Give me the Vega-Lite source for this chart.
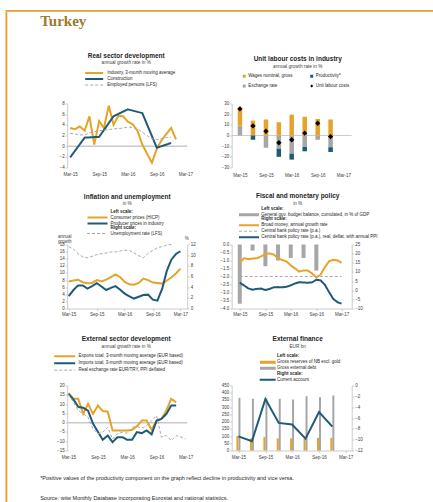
{
  "$schema": "https://vega.github.io/schema/vega-lite/v6.json",
  "autosize": {"type": "pad"},
  "padding": {"left": 5.5, "top": 10, "right": 0, "bottom": 0},
  "background": "white",
  "spacing": 0,
  "vconcat": [
    {"width": 427.5, "height": 1.8, "view": {"fill": "#E59E2E", "stroke": null}, "data": {"values": []}, "mark": "point", "encoding": {}},
    {
      "spacing": 32.7,
      "hconcat": [
        {"width": 1.8, "height": 490, "view": {"fill": "#E59E2E", "stroke": null}, "data": {"values": []}, "mark": "point", "encoding": {}},
        {
          "spacing": 23.5,
          "vconcat": [
            {"width": 1, "height": 1, "title": {"text": "Turkey", "orient": "bottom", "anchor": "start", "frame": "group", "dx": -27, "offset": 0.5, "font": "Liberation Serif", "fontSize": 15, "fontWeight": "bold", "color": "#9C7A2E"}, "data": {"values": []}, "mark": "point", "encoding": {}},
            {
              "bounds": "flush",
              "columns": 2,
              "spacing": {"row": 77, "column": 44.5},
              "resolve": {"scale": {"color": "independent", "strokeDash": "independent", "strokeWidth": "independent", "shape": "independent"}, "legend": {"color": "independent", "strokeDash": "independent", "strokeWidth": "independent", "shape": "independent"}},
              "title": {"text": "*Positive values of the productivity component on the graph reflect decline in productivity and vice versa.", "subtitle": "Source: wiiw Monthly Database incorporating Eurostat and national statistics.", "orient": "bottom", "anchor": "start", "frame": "group", "dx": -27, "offset": 17, "font": "Liberation Sans", "fontSize": 5.5, "fontWeight": "normal", "color": "#262626", "subtitleFont": "Liberation Sans", "subtitleFontSize": 5.5, "subtitleColor": "#262626", "subtitlePadding": 14},
              "concat": [
                {
                  "width": 120, "height": 64,
                  "title": {"text": "Real sector development", "subtitle": "annual growth rate in %", "dx": -1, "offset": 5, "subtitlePadding": 1},
                  "layer": [
                    {"data": {"values": [{}]}, "mark": {"type": "rule", "color": "#C9C9C9", "strokeWidth": 1.5},
                     "encoding": {"y": {"datum": 0, "type": "quantitative", "scale": {"domain": [-4, 8], "nice": false}}}},
                    {"data": {"name": "real_sector"}, "mark": {"type": "line"},
                     "encoding": {
                       "x": {"field": "date", "type": "temporal", "scale": {"type": "utc", "nice": false, "domain": [{"year": 2015, "month": 2, "date": 10, "utc": true}, {"year": 2017, "month": 3, "date": 13, "utc": true}]},
                             "axis": {"values": [{"year": 2015, "month": 3, "date": 1, "utc": true}, {"year": 2015, "month": 9, "date": 1, "utc": true}, {"year": 2016, "month": 3, "date": 1, "utc": true}, {"year": 2016, "month": 9, "date": 1, "utc": true}, {"year": 2017, "month": 3, "date": 1, "utc": true}], "tickCount": 50, "format": "%b-%y", "title": null, "domain": false, "ticks": false, "labelPadding": 4, "labelFlush": false, "labelOverlap": false}},
                       "y": {"field": "value", "type": "quantitative", "scale": {"domain": [-4, 8], "nice": false}, "axis": {"values": [-4, -2, 0, 2, 4, 6, 8], "tickCount": 50, "format": "d", "labelOverlap": false, "title": null}},
                       "color": {"field": "series", "type": "nominal", "scale": {"domain": ["Industry, 3-month moving average", "Construction", "Employed persons (LFS)"], "range": ["#E5A32A", "#1F5B78", "#A9A9A9"]},
                                 "legend": {"title": null, "orient": "none", "legendX": 17, "legendY": -33.5, "symbolType": "stroke", "symbolSize": 324, "clipHeight": 6, "rowPadding": 0, "labelOffset": 3}},
                       "strokeDash": {"field": "series", "type": "nominal", "scale": {"domain": ["Industry, 3-month moving average", "Construction", "Employed persons (LFS)"], "range": [[1, 0], [1, 0], [3, 2]]}},
                       "strokeWidth": {"field": "series", "type": "nominal", "scale": {"type": "ordinal", "domain": ["Industry, 3-month moving average", "Construction", "Employed persons (LFS)"], "range": [2, 2, 1]}}
                     }}
                  ]
                },
                {
                  "width": 120, "height": 64,
                  "title": {"text": "Unit labour costs in industry", "subtitle": "annual growth rate in %", "dx": 6, "offset": 5, "subtitlePadding": 2},
                  "layer": [
                    {"data": {"values": [{}]}, "mark": {"type": "rule", "color": "#BFBFBF", "strokeWidth": 0.8},
                     "encoding": {"y": {"datum": 0, "type": "quantitative", "scale": {"domain": [-30, 30], "nice": false}}}},
                    {"data": {"name": "ulc_components"}, "mark": {"type": "bar", "size": 4.5},
                     "encoding": {
                       "x": {"field": "date", "type": "temporal", "scale": {"type": "utc", "nice": false, "domain": [{"year": 2015, "month": 2, "date": 6, "utc": true}, {"year": 2017, "month": 3, "date": 25, "utc": true}]},
                             "axis": {"values": [{"year": 2015, "month": 3, "date": 1, "utc": true}, {"year": 2015, "month": 9, "date": 1, "utc": true}, {"year": 2016, "month": 3, "date": 1, "utc": true}, {"year": 2016, "month": 9, "date": 1, "utc": true}, {"year": 2017, "month": 3, "date": 1, "utc": true}], "tickCount": 50, "format": "%b-%y", "title": null, "domain": false, "ticks": false, "labelPadding": 4.5, "labelFlush": false, "labelOverlap": false}},
                       "y": {"field": "value", "type": "quantitative", "stack": "zero", "scale": {"domain": [-30, 30], "nice": false}, "axis": {"values": [-30, -20, -10, 0, 10, 20, 30], "tickCount": 50, "format": "d", "labelOverlap": false, "title": null}},
                       "color": {"field": "series", "type": "nominal", "scale": {"domain": ["Wages nominal, gross", "Exchange rate", "Productivity*", "Unit labour costs"], "range": ["#E5A32A", "#A6A6A6", "#1F5B78", "#000000"]},
                                 "legend": {"title": null, "orient": "none", "legendX": 10, "legendY": -29.75, "columns": 2, "columnPadding": 16.5, "symbolSize": 9, "rowPadding": 4.8, "labelOffset": 1.5, "symbolType": "square"}},
                       "order": {"field": "stack_order", "type": "quantitative"}
                     }},
                    {"data": {"name": "ulc_total"}, "mark": {"type": "point", "filled": true, "size": 28, "opacity": 1},
                     "encoding": {
                       "x": {"field": "date", "type": "temporal", "scale": {"type": "utc", "nice": false, "domain": [{"year": 2015, "month": 2, "date": 6, "utc": true}, {"year": 2017, "month": 3, "date": 25, "utc": true}]}},
                       "y": {"field": "value", "type": "quantitative", "scale": {"domain": [-30, 30], "nice": false}},
                       "color": {"field": "series", "type": "nominal", "scale": {"domain": ["Wages nominal, gross", "Exchange rate", "Productivity*", "Unit labour costs"], "range": ["#E5A32A", "#A6A6A6", "#1F5B78", "#000000"]}},
                       "shape": {"field": "series", "type": "nominal", "scale": {"domain": ["Wages nominal, gross", "Exchange rate", "Productivity*", "Unit labour costs"], "range": ["square", "square", "square", "diamond"]}}
                     }}
                  ]
                },
                {
                  "width": 120, "height": 64,
                  "title": {"text": "Inflation and unemployment", "subtitle": "in %", "dx": 0, "offset": 3, "subtitlePadding": 0.5},
                  "layer": [
                    {"data": {"name": "inflation"}, "mark": {"type": "line", "strokeWidth": 2},
                     "encoding": {
                       "x": {"field": "date", "type": "temporal", "scale": {"type": "utc", "nice": false, "domain": [{"year": 2015, "month": 2, "date": 19, "utc": true}, {"year": 2017, "month": 4, "date": 14, "utc": true}]},
                             "axis": {"values": [{"year": 2015, "month": 3, "date": 1, "utc": true}, {"year": 2015, "month": 9, "date": 1, "utc": true}, {"year": 2016, "month": 3, "date": 1, "utc": true}, {"year": 2016, "month": 9, "date": 1, "utc": true}, {"year": 2017, "month": 3, "date": 1, "utc": true}], "tickCount": 50, "format": "%b-%y", "title": null, "domain": true, "ticks": true, "labelPadding": 0.5, "labelFlush": false, "labelOverlap": false}},
                       "y": {"field": "value", "type": "quantitative", "scale": {"domain": [0, 18], "nice": false}, "axis": {"values": [0, 2, 4, 6, 8, 10, 12, 14, 16, 18], "tickCount": 50, "format": "d", "labelOverlap": false, "title": ["annual", "growth"], "titleAngle": 0, "titleAlign": "center", "titleBaseline": "bottom", "titleX": -3, "titleY": -6.5, "titleLineHeight": 5}},
                       "color": {"field": "series", "type": "nominal", "scale": {"domain": ["Left scale:", "Consumer prices (HICP)", "Producer prices in industry"], "range": ["rgba(0,0,0,0)", "#E5A32A", "#1F5B78"]},
                                 "legend": {"title": null, "orient": "none", "legendX": 19.3, "legendY": -35.5, "symbolType": "stroke", "symbolSize": 400, "symbolStrokeWidth": 2, "clipHeight": 5, "rowPadding": 0, "labelOffset": 2, "labelFontWeight": {"expr": "datum.label == 'Left scale:' ? 'bold' : 'normal'"}}}
                     }},
                    {"data": {"name": "unemployment"}, "mark": {"type": "line", "strokeWidth": 1, "strokeDash": [3, 2]},
                     "encoding": {
                       "x": {"field": "date", "type": "temporal", "scale": {"type": "utc", "nice": false, "domain": [{"year": 2015, "month": 2, "date": 19, "utc": true}, {"year": 2017, "month": 4, "date": 14, "utc": true}]}},
                       "y": {"field": "value", "type": "quantitative", "scale": {"domain": [0, 12], "nice": false}, "axis": {"orient": "right", "values": [0, 2, 4, 6, 8, 10, 12], "tickCount": 50, "format": "d", "labelOverlap": false, "title": "%", "titleAngle": 0, "titleAlign": "center", "titleBaseline": "bottom", "titleX": -1, "titleY": -4.5}},
                       "color": {"field": "series", "type": "nominal", "scale": {"domain": ["Right scale:", "Unemployment rate (LFS)"], "range": ["rgba(0,0,0,0)", "#A9A9A9"]},
                                 "legend": {"title": null, "orient": "none", "legendX": 19.3, "legendY": -19.5, "symbolType": "stroke", "symbolSize": 400, "symbolStrokeWidth": 1, "symbolDash": [3, 2], "clipHeight": 5, "rowPadding": 0, "labelOffset": 3, "labelFontWeight": {"expr": "datum.label == 'Right scale:' ? 'bold' : 'normal'"}}}
                     }}
                  ],
                  "resolve": {"scale": {"y": "independent", "color": "independent"}}
                },
                {
                  "width": 120, "height": 64,
                  "title": {"text": "Fiscal and monetary policy", "subtitle": "in %", "dx": 6, "offset": 1, "subtitlePadding": 1.5},
                  "layer": [
                    {"data": {"name": "budget"}, "mark": {"type": "bar", "size": 4},
                     "encoding": {
                       "x": {"field": "date", "type": "temporal", "scale": {"type": "utc", "nice": false, "domain": [{"year": 2015, "month": 2, "date": 7, "utc": true}, {"year": 2017, "month": 4, "date": 7, "utc": true}]},
                             "axis": {"values": [{"year": 2015, "month": 3, "date": 1, "utc": true}, {"year": 2015, "month": 9, "date": 1, "utc": true}, {"year": 2016, "month": 3, "date": 1, "utc": true}, {"year": 2016, "month": 9, "date": 1, "utc": true}, {"year": 2017, "month": 3, "date": 1, "utc": true}], "tickCount": 50, "format": "%b-%y", "title": null, "domain": true, "ticks": true, "labelPadding": 0.5, "labelFlush": false, "labelOverlap": false}},
                       "y": {"field": "value", "type": "quantitative", "scale": {"domain": [-4, 0], "nice": false}, "axis": {"values": [-4, -3.5, -3, -2.5, -2, -1.5, -1, -0.5, 0], "tickCount": 50, "labelOverlap": false, "format": ".1f", "title": null}},
                       "color": {"field": "series", "type": "nominal", "scale": {"domain": ["Left scale:", "General gov. budget balance, cumulated, in % of GDP"], "range": ["rgba(0,0,0,0)", "#A6A6A6"]},
                                 "legend": {"title": null, "orient": "none", "legendX": 7.3, "legendY": -38.2, "symbolType": "M-1,-0.15H1V0.15H-1Z", "symbolSize": 400, "symbolStrokeWidth": 0, "clipHeight": 5, "rowPadding": 0, "labelOffset": 2.3, "labelFontWeight": {"expr": "datum.label == 'Left scale:' ? 'bold' : 'normal'"}}}
                     }},
                    {"data": {"name": "money"}, "mark": {"type": "line"},
                     "encoding": {
                       "x": {"field": "date", "type": "temporal", "scale": {"type": "utc", "nice": false, "domain": [{"year": 2015, "month": 2, "date": 7, "utc": true}, {"year": 2017, "month": 4, "date": 7, "utc": true}]}},
                       "y": {"field": "value", "type": "quantitative", "scale": {"domain": [-10, 25], "nice": false}, "axis": {"orient": "right", "values": [-10, -5, 0, 5, 10, 15, 20, 25], "tickCount": 50, "format": "d", "labelOverlap": false, "title": null}},
                       "color": {"field": "series", "type": "nominal", "scale": {"domain": ["Right scale:", "Broad money, annual growth rate", "Central bank policy rate (p.a.)", "Central bank policy rate (p.a.), real, deflat. with annual PPI"], "range": ["rgba(0,0,0,0)", "#E5A32A", "#A9A9A9", "#1F5B78"]},
                                 "legend": {"title": null, "orient": "none", "legendX": 6.3, "legendY": -27.8, "symbolType": "stroke", "symbolSize": 400, "clipHeight": 5, "rowPadding": 0, "labelOffset": 1.3, "labelFontWeight": {"expr": "datum.label == 'Right scale:' ? 'bold' : 'normal'"}}},
                       "strokeDash": {"field": "series", "type": "nominal", "scale": {"domain": ["Right scale:", "Broad money, annual growth rate", "Central bank policy rate (p.a.)", "Central bank policy rate (p.a.), real, deflat. with annual PPI"], "range": [[1, 0], [1, 0], [3, 2], [1, 0]]}},
                       "strokeWidth": {"field": "series", "type": "nominal", "scale": {"type": "ordinal", "domain": ["Right scale:", "Broad money, annual growth rate", "Central bank policy rate (p.a.)", "Central bank policy rate (p.a.), real, deflat. with annual PPI"], "range": [2, 2, 1, 2]}}
                     }}
                  ],
                  "resolve": {"scale": {"y": "independent", "color": "independent", "strokeDash": "independent", "strokeWidth": "independent"}}
                },
                {
                  "width": 120, "height": 65,
                  "title": {"text": "External sector development", "subtitle": "annual growth rate in %", "dx": -1, "offset": 4.5, "subtitlePadding": 1},
                  "layer": [
                    {"data": {"values": [{}]}, "mark": {"type": "rule", "color": "#C9C9C9", "strokeWidth": 1.5},
                     "encoding": {"y": {"datum": 0, "type": "quantitative", "scale": {"domain": [-15, 20], "nice": false}}}},
                    {"data": {"name": "ext_sector"}, "mark": {"type": "line"},
                     "encoding": {
                       "x": {"field": "date", "type": "temporal", "scale": {"type": "utc", "nice": false, "domain": [{"year": 2015, "month": 2, "date": 21, "utc": true}, {"year": 2017, "month": 3, "date": 11, "utc": true}]},
                             "axis": {"values": [{"year": 2015, "month": 3, "date": 1, "utc": true}, {"year": 2015, "month": 9, "date": 1, "utc": true}, {"year": 2016, "month": 3, "date": 1, "utc": true}, {"year": 2016, "month": 9, "date": 1, "utc": true}, {"year": 2017, "month": 3, "date": 1, "utc": true}], "tickCount": 50, "format": "%b-%y", "title": null, "domain": false, "ticks": false, "labelPadding": 4, "labelFlush": false, "labelOverlap": false}},
                       "y": {"field": "value", "type": "quantitative", "scale": {"domain": [-15, 20], "nice": false}, "axis": {"values": [-15, -10, -5, 0, 5, 10, 15, 20], "tickCount": 50, "format": "d", "labelOverlap": false, "title": null}},
                       "color": {"field": "series", "type": "nominal", "scale": {"domain": ["Exports total, 3-month moving average (EUR based)", "Imports total, 3-month moving average (EUR based)", "Real exchange rate EUR/TRY, PPI deflated"], "range": ["#E5A32A", "#1F5B78", "#A9A9A9"]},
                                 "legend": {"title": null, "orient": "none", "legendX": -14, "legendY": -32.5, "symbolType": "stroke", "symbolSize": 441, "clipHeight": 6.3, "rowPadding": 0, "labelOffset": 2.3}},
                       "strokeDash": {"field": "series", "type": "nominal", "scale": {"domain": ["Exports total, 3-month moving average (EUR based)", "Imports total, 3-month moving average (EUR based)", "Real exchange rate EUR/TRY, PPI deflated"], "range": [[1, 0], [1, 0], [3, 2]]}},
                       "strokeWidth": {"field": "series", "type": "nominal", "scale": {"type": "ordinal", "domain": ["Exports total, 3-month moving average (EUR based)", "Imports total, 3-month moving average (EUR based)", "Real exchange rate EUR/TRY, PPI deflated"], "range": [2, 2, 1]}}
                     }}
                  ]
                },
                {
                  "width": 120, "height": 65,
                  "title": {"text": "External finance", "subtitle": "EUR bn", "dx": 6, "offset": 5, "subtitlePadding": 1},
                  "layer": [
                    {
                      "layer": [
                        {"data": {"name": "reserves"}, "mark": {"type": "bar", "size": 2, "xOffset": -1},
                         "encoding": {
                           "x": {"field": "date", "type": "temporal", "scale": {"type": "utc", "nice": false, "domain": [{"year": 2015, "month": 2, "date": 17, "utc": true}, {"year": 2017, "month": 3, "date": 9, "utc": true}]},
                                 "axis": {"values": [{"year": 2015, "month": 3, "date": 1, "utc": true}, {"year": 2015, "month": 9, "date": 1, "utc": true}, {"year": 2016, "month": 3, "date": 1, "utc": true}, {"year": 2016, "month": 9, "date": 1, "utc": true}, {"year": 2017, "month": 3, "date": 1, "utc": true}], "tickCount": 50, "format": "%b-%y", "title": null, "domain": true, "ticks": true, "labelPadding": 2, "labelFlush": false, "labelOverlap": false}},
                           "y": {"field": "value", "type": "quantitative", "scale": {"domain": [0, 450], "nice": false}, "axis": {"values": [0, 50, 100, 150, 200, 250, 300, 350, 400, 450], "tickCount": 50, "format": "d", "labelOverlap": false, "title": null}},
                           "color": {"field": "series", "type": "nominal", "scale": {"domain": ["Left scale:", "Gross reserves of NB excl. gold", "Gross external debt"], "range": ["rgba(0,0,0,0)", "#E5A32A", "#A6A6A6"]},
                                     "legend": {"title": null, "orient": "none", "legendX": 28, "legendY": -32.3, "symbolType": "M-1,-0.19H1V0.19H-1Z", "symbolSize": 256, "symbolStrokeWidth": 0, "clipHeight": 6, "rowPadding": 0, "labelOffset": 1.3, "labelFontWeight": {"expr": "datum.label == 'Left scale:' ? 'bold' : 'normal'"}}}
                         }},
                        {"data": {"name": "external_debt"}, "mark": {"type": "bar", "size": 2, "xOffset": 1},
                         "encoding": {
                           "x": {"field": "date", "type": "temporal", "scale": {"type": "utc", "nice": false, "domain": [{"year": 2015, "month": 2, "date": 17, "utc": true}, {"year": 2017, "month": 3, "date": 9, "utc": true}]}},
                           "y": {"field": "value", "type": "quantitative", "scale": {"domain": [0, 450], "nice": false}},
                           "color": {"field": "series", "type": "nominal", "scale": {"domain": ["Left scale:", "Gross reserves of NB excl. gold", "Gross external debt"], "range": ["rgba(0,0,0,0)", "#E5A32A", "#A6A6A6"]}}
                         }}
                      ]
                    },
                    {"data": {"name": "current_account"}, "mark": {"type": "line", "strokeWidth": 2},
                     "encoding": {
                       "x": {"field": "date", "type": "temporal", "scale": {"type": "utc", "nice": false, "domain": [{"year": 2015, "month": 2, "date": 17, "utc": true}, {"year": 2017, "month": 3, "date": 9, "utc": true}]}},
                       "y": {"field": "value", "type": "quantitative", "scale": {"domain": [-12, 0], "nice": false}, "axis": {"orient": "right", "values": [-12, -10, -8, -6, -4, -2, 0], "tickCount": 50, "format": "d", "labelOverlap": false, "title": null}},
                       "color": {"field": "series", "type": "nominal", "scale": {"domain": ["Right scale:", "Current account"], "range": ["rgba(0,0,0,0)", "#1F5B78"]},
                                 "legend": {"title": null, "orient": "none", "legendX": 27, "legendY": -14.7, "symbolType": "stroke", "symbolSize": 256, "symbolStrokeWidth": 2, "clipHeight": 6, "rowPadding": 0, "labelOffset": 0.3, "labelFontWeight": {"expr": "datum.label == 'Right scale:' ? 'bold' : 'normal'"}}}
                     }}
                  ],
                  "resolve": {"scale": {"y": "independent", "color": "independent"}}
                }
              ]
            }
          ]
        }
      ]
    }
  ],
  "datasets": {
    "real_sector": [
      {"date": "2015-03-01", "series": "Industry, 3-month moving average", "value": 3.4},
      {"date": "2015-04-01", "series": "Industry, 3-month moving average", "value": 3.2},
      {"date": "2015-05-01", "series": "Industry, 3-month moving average", "value": 3.7},
      {"date": "2015-06-01", "series": "Industry, 3-month moving average", "value": 2.9},
      {"date": "2015-07-01", "series": "Industry, 3-month moving average", "value": 5.6},
      {"date": "2015-08-01", "series": "Industry, 3-month moving average", "value": 0.3},
      {"date": "2015-09-01", "series": "Industry, 3-month moving average", "value": 4.7},
      {"date": "2015-10-01", "series": "Industry, 3-month moving average", "value": 3.4},
      {"date": "2015-11-01", "series": "Industry, 3-month moving average", "value": 7.6},
      {"date": "2015-12-01", "series": "Industry, 3-month moving average", "value": 4.0},
      {"date": "2016-01-01", "series": "Industry, 3-month moving average", "value": 5.7},
      {"date": "2016-02-01", "series": "Industry, 3-month moving average", "value": 5.6},
      {"date": "2016-03-01", "series": "Industry, 3-month moving average", "value": 4.6},
      {"date": "2016-04-01", "series": "Industry, 3-month moving average", "value": 4.1},
      {"date": "2016-05-01", "series": "Industry, 3-month moving average", "value": 2.9},
      {"date": "2016-06-01", "series": "Industry, 3-month moving average", "value": 0.3},
      {"date": "2016-07-01", "series": "Industry, 3-month moving average", "value": -1.4},
      {"date": "2016-08-01", "series": "Industry, 3-month moving average", "value": -3.1},
      {"date": "2016-09-01", "series": "Industry, 3-month moving average", "value": -0.5},
      {"date": "2016-10-01", "series": "Industry, 3-month moving average", "value": 1.1},
      {"date": "2016-11-01", "series": "Industry, 3-month moving average", "value": 2.3},
      {"date": "2016-12-01", "series": "Industry, 3-month moving average", "value": 3.4},
      {"date": "2017-01-01", "series": "Industry, 3-month moving average", "value": 1.3},
      {"date": "2015-03-01", "series": "Construction", "value": -2.1},
      {"date": "2015-06-01", "series": "Construction", "value": 1.6},
      {"date": "2015-09-01", "series": "Construction", "value": 1.75},
      {"date": "2015-12-01", "series": "Construction", "value": 5.6},
      {"date": "2016-03-01", "series": "Construction", "value": 6.9},
      {"date": "2016-06-01", "series": "Construction", "value": 6.2},
      {"date": "2016-09-01", "series": "Construction", "value": -0.3},
      {"date": "2016-12-01", "series": "Construction", "value": 0.6},
      {"date": "2015-03-01", "series": "Employed persons (LFS)", "value": 2.4},
      {"date": "2015-04-01", "series": "Employed persons (LFS)", "value": 2.3},
      {"date": "2015-05-01", "series": "Employed persons (LFS)", "value": 2.1},
      {"date": "2015-06-01", "series": "Employed persons (LFS)", "value": 2.1},
      {"date": "2015-07-01", "series": "Employed persons (LFS)", "value": 2.5},
      {"date": "2015-08-01", "series": "Employed persons (LFS)", "value": 2.7},
      {"date": "2015-09-01", "series": "Employed persons (LFS)", "value": 2.9},
      {"date": "2015-10-01", "series": "Employed persons (LFS)", "value": 3.0},
      {"date": "2015-11-01", "series": "Employed persons (LFS)", "value": 3.1},
      {"date": "2015-12-01", "series": "Employed persons (LFS)", "value": 3.25},
      {"date": "2016-01-01", "series": "Employed persons (LFS)", "value": 3.3},
      {"date": "2016-02-01", "series": "Employed persons (LFS)", "value": 3.4},
      {"date": "2016-03-01", "series": "Employed persons (LFS)", "value": 3.6},
      {"date": "2016-04-01", "series": "Employed persons (LFS)", "value": 3.5},
      {"date": "2016-05-01", "series": "Employed persons (LFS)", "value": 3.3},
      {"date": "2016-06-01", "series": "Employed persons (LFS)", "value": 2.6},
      {"date": "2016-07-01", "series": "Employed persons (LFS)", "value": 2.0},
      {"date": "2016-08-01", "series": "Employed persons (LFS)", "value": 1.4},
      {"date": "2016-09-01", "series": "Employed persons (LFS)", "value": 1.2},
      {"date": "2016-10-01", "series": "Employed persons (LFS)", "value": 1.4},
      {"date": "2016-11-01", "series": "Employed persons (LFS)", "value": 1.6},
      {"date": "2016-12-01", "series": "Employed persons (LFS)", "value": 1.7}
    ],
    "ulc_components": [
      {"date": "2015-03-01", "series": "Exchange rate", "stack_order": 1, "value": 9.3},
      {"date": "2015-06-01", "series": "Exchange rate", "stack_order": 1, "value": 0},
      {"date": "2015-09-01", "series": "Exchange rate", "stack_order": 1, "value": -11.5},
      {"date": "2015-12-01", "series": "Exchange rate", "stack_order": 1, "value": -12.4},
      {"date": "2016-03-01", "series": "Exchange rate", "stack_order": 1, "value": -17},
      {"date": "2016-06-01", "series": "Exchange rate", "stack_order": 1, "value": -10.8},
      {"date": "2016-09-01", "series": "Exchange rate", "stack_order": 1, "value": -4},
      {"date": "2016-12-01", "series": "Exchange rate", "stack_order": 1, "value": -11},
      {"date": "2015-03-01", "series": "Wages nominal, gross", "stack_order": 2, "value": 15.5},
      {"date": "2015-06-01", "series": "Wages nominal, gross", "stack_order": 2, "value": 14},
      {"date": "2015-09-01", "series": "Wages nominal, gross", "stack_order": 2, "value": 15},
      {"date": "2015-12-01", "series": "Wages nominal, gross", "stack_order": 2, "value": 12.4},
      {"date": "2016-03-01", "series": "Wages nominal, gross", "stack_order": 2, "value": 19.5},
      {"date": "2016-06-01", "series": "Wages nominal, gross", "stack_order": 2, "value": 17.6},
      {"date": "2016-09-01", "series": "Wages nominal, gross", "stack_order": 2, "value": 15.5},
      {"date": "2016-12-01", "series": "Wages nominal, gross", "stack_order": 2, "value": 15},
      {"date": "2015-03-01", "series": "Productivity*", "stack_order": 3, "value": 0},
      {"date": "2015-06-01", "series": "Productivity*", "stack_order": 3, "value": -4},
      {"date": "2015-09-01", "series": "Productivity*", "stack_order": 3, "value": 0},
      {"date": "2015-12-01", "series": "Productivity*", "stack_order": 3, "value": -7.6},
      {"date": "2016-03-01", "series": "Productivity*", "stack_order": 3, "value": -5.6},
      {"date": "2016-06-01", "series": "Productivity*", "stack_order": 3, "value": -4},
      {"date": "2016-09-01", "series": "Productivity*", "stack_order": 3, "value": 0},
      {"date": "2016-12-01", "series": "Productivity*", "stack_order": 3, "value": -4.5}
    ],
    "ulc_total": [
      {"date": "2015-03-01", "series": "Unit labour costs", "value": 25},
      {"date": "2015-06-01", "series": "Unit labour costs", "value": 9},
      {"date": "2015-09-01", "series": "Unit labour costs", "value": 4},
      {"date": "2015-12-01", "series": "Unit labour costs", "value": -6.8},
      {"date": "2016-03-01", "series": "Unit labour costs", "value": -4},
      {"date": "2016-06-01", "series": "Unit labour costs", "value": 2.2},
      {"date": "2016-09-01", "series": "Unit labour costs", "value": 11.5},
      {"date": "2016-12-01", "series": "Unit labour costs", "value": -1}
    ],
    "inflation": [
      {"date": "2015-03-01", "series": "Consumer prices (HICP)", "value": 7.6},
      {"date": "2015-04-01", "series": "Consumer prices (HICP)", "value": 7.9},
      {"date": "2015-05-01", "series": "Consumer prices (HICP)", "value": 8.1},
      {"date": "2015-06-01", "series": "Consumer prices (HICP)", "value": 7.4},
      {"date": "2015-07-01", "series": "Consumer prices (HICP)", "value": 7.1},
      {"date": "2015-08-01", "series": "Consumer prices (HICP)", "value": 7.2},
      {"date": "2015-09-01", "series": "Consumer prices (HICP)", "value": 8.0},
      {"date": "2015-10-01", "series": "Consumer prices (HICP)", "value": 7.6},
      {"date": "2015-11-01", "series": "Consumer prices (HICP)", "value": 8.1},
      {"date": "2015-12-01", "series": "Consumer prices (HICP)", "value": 8.8},
      {"date": "2016-01-01", "series": "Consumer prices (HICP)", "value": 9.6},
      {"date": "2016-02-01", "series": "Consumer prices (HICP)", "value": 8.8},
      {"date": "2016-03-01", "series": "Consumer prices (HICP)", "value": 7.5},
      {"date": "2016-04-01", "series": "Consumer prices (HICP)", "value": 6.8},
      {"date": "2016-05-01", "series": "Consumer prices (HICP)", "value": 6.7},
      {"date": "2016-06-01", "series": "Consumer prices (HICP)", "value": 7.2},
      {"date": "2016-07-01", "series": "Consumer prices (HICP)", "value": 8.4},
      {"date": "2016-08-01", "series": "Consumer prices (HICP)", "value": 8.0},
      {"date": "2016-09-01", "series": "Consumer prices (HICP)", "value": 7.3},
      {"date": "2016-10-01", "series": "Consumer prices (HICP)", "value": 7.2},
      {"date": "2016-11-01", "series": "Consumer prices (HICP)", "value": 7.0},
      {"date": "2016-12-01", "series": "Consumer prices (HICP)", "value": 7.8},
      {"date": "2017-01-01", "series": "Consumer prices (HICP)", "value": 8.8},
      {"date": "2017-02-01", "series": "Consumer prices (HICP)", "value": 9.9},
      {"date": "2017-03-01", "series": "Consumer prices (HICP)", "value": 11.2},
      {"date": "2015-03-01", "series": "Producer prices in industry", "value": 3.5},
      {"date": "2015-04-01", "series": "Producer prices in industry", "value": 5.2},
      {"date": "2015-05-01", "series": "Producer prices in industry", "value": 6.5},
      {"date": "2015-06-01", "series": "Producer prices in industry", "value": 6.5},
      {"date": "2015-07-01", "series": "Producer prices in industry", "value": 5.6},
      {"date": "2015-08-01", "series": "Producer prices in industry", "value": 6.3},
      {"date": "2015-09-01", "series": "Producer prices in industry", "value": 7.1},
      {"date": "2015-10-01", "series": "Producer prices in industry", "value": 6.2},
      {"date": "2015-11-01", "series": "Producer prices in industry", "value": 5.2},
      {"date": "2015-12-01", "series": "Producer prices in industry", "value": 5.8},
      {"date": "2016-01-01", "series": "Producer prices in industry", "value": 6.3},
      {"date": "2016-02-01", "series": "Producer prices in industry", "value": 5.3},
      {"date": "2016-03-01", "series": "Producer prices in industry", "value": 4.2},
      {"date": "2016-04-01", "series": "Producer prices in industry", "value": 3.4},
      {"date": "2016-05-01", "series": "Producer prices in industry", "value": 2.8},
      {"date": "2016-06-01", "series": "Producer prices in industry", "value": 3.3},
      {"date": "2016-07-01", "series": "Producer prices in industry", "value": 3.8},
      {"date": "2016-08-01", "series": "Producer prices in industry", "value": 3.9},
      {"date": "2016-09-01", "series": "Producer prices in industry", "value": 2.5},
      {"date": "2016-10-01", "series": "Producer prices in industry", "value": 2.2},
      {"date": "2016-11-01", "series": "Producer prices in industry", "value": 5.5},
      {"date": "2016-12-01", "series": "Producer prices in industry", "value": 10.5},
      {"date": "2017-01-01", "series": "Producer prices in industry", "value": 13.8},
      {"date": "2017-02-01", "series": "Producer prices in industry", "value": 15.4},
      {"date": "2017-03-01", "series": "Producer prices in industry", "value": 16.1}
    ],
    "unemployment": [
      {"date": "2015-03-01", "series": "Unemployment rate (LFS)", "value": 11.6},
      {"date": "2015-04-01", "series": "Unemployment rate (LFS)", "value": 11.1},
      {"date": "2015-05-01", "series": "Unemployment rate (LFS)", "value": 10.3},
      {"date": "2015-06-01", "series": "Unemployment rate (LFS)", "value": 9.7},
      {"date": "2015-07-01", "series": "Unemployment rate (LFS)", "value": 9.5},
      {"date": "2015-08-01", "series": "Unemployment rate (LFS)", "value": 9.8},
      {"date": "2015-09-01", "series": "Unemployment rate (LFS)", "value": 10.1},
      {"date": "2015-10-01", "series": "Unemployment rate (LFS)", "value": 10.3},
      {"date": "2015-11-01", "series": "Unemployment rate (LFS)", "value": 10.4},
      {"date": "2015-12-01", "series": "Unemployment rate (LFS)", "value": 10.6},
      {"date": "2016-01-01", "series": "Unemployment rate (LFS)", "value": 10.6},
      {"date": "2016-02-01", "series": "Unemployment rate (LFS)", "value": 10.8},
      {"date": "2016-03-01", "series": "Unemployment rate (LFS)", "value": 10.9},
      {"date": "2016-04-01", "series": "Unemployment rate (LFS)", "value": 10.9},
      {"date": "2016-05-01", "series": "Unemployment rate (LFS)", "value": 10.4},
      {"date": "2016-06-01", "series": "Unemployment rate (LFS)", "value": 9.9},
      {"date": "2016-07-01", "series": "Unemployment rate (LFS)", "value": 9.5},
      {"date": "2016-08-01", "series": "Unemployment rate (LFS)", "value": 10.3},
      {"date": "2016-09-01", "series": "Unemployment rate (LFS)", "value": 10.9},
      {"date": "2016-10-01", "series": "Unemployment rate (LFS)", "value": 11.4},
      {"date": "2016-11-01", "series": "Unemployment rate (LFS)", "value": 11.6},
      {"date": "2016-12-01", "series": "Unemployment rate (LFS)", "value": 11.9},
      {"date": "2017-01-01", "series": "Unemployment rate (LFS)", "value": 12.0}
    ],
    "budget": [
      {"date": "2015-03-01", "series": "General gov. budget balance, cumulated, in % of GDP", "value": -3.7},
      {"date": "2015-06-01", "series": "General gov. budget balance, cumulated, in % of GDP", "value": -0.38},
      {"date": "2015-09-01", "series": "General gov. budget balance, cumulated, in % of GDP", "value": -1.36},
      {"date": "2015-12-01", "series": "General gov. budget balance, cumulated, in % of GDP", "value": -1.0},
      {"date": "2016-03-01", "series": "General gov. budget balance, cumulated, in % of GDP", "value": -0.84},
      {"date": "2016-06-01", "series": "General gov. budget balance, cumulated, in % of GDP", "value": -0.84},
      {"date": "2016-09-01", "series": "General gov. budget balance, cumulated, in % of GDP", "value": -1.63}
    ],
    "money": [
      {"date": "2015-03-01", "series": "Broad money, annual growth rate", "value": 15.0},
      {"date": "2015-04-01", "series": "Broad money, annual growth rate", "value": 17.5},
      {"date": "2015-05-01", "series": "Broad money, annual growth rate", "value": 17.0},
      {"date": "2015-06-01", "series": "Broad money, annual growth rate", "value": 17.3},
      {"date": "2015-07-01", "series": "Broad money, annual growth rate", "value": 17.5},
      {"date": "2015-08-01", "series": "Broad money, annual growth rate", "value": 18.5},
      {"date": "2015-09-01", "series": "Broad money, annual growth rate", "value": 19.8},
      {"date": "2015-10-01", "series": "Broad money, annual growth rate", "value": 20.1},
      {"date": "2015-11-01", "series": "Broad money, annual growth rate", "value": 19.5},
      {"date": "2015-12-01", "series": "Broad money, annual growth rate", "value": 17.5},
      {"date": "2016-01-01", "series": "Broad money, annual growth rate", "value": 16.5},
      {"date": "2016-02-01", "series": "Broad money, annual growth rate", "value": 15.7},
      {"date": "2016-03-01", "series": "Broad money, annual growth rate", "value": 13.6},
      {"date": "2016-04-01", "series": "Broad money, annual growth rate", "value": 11.9},
      {"date": "2016-05-01", "series": "Broad money, annual growth rate", "value": 10.2},
      {"date": "2016-06-01", "series": "Broad money, annual growth rate", "value": 10.8},
      {"date": "2016-07-01", "series": "Broad money, annual growth rate", "value": 10.8},
      {"date": "2016-08-01", "series": "Broad money, annual growth rate", "value": 9.2},
      {"date": "2016-09-01", "series": "Broad money, annual growth rate", "value": 7.0},
      {"date": "2016-10-01", "series": "Broad money, annual growth rate", "value": 8.5},
      {"date": "2016-11-01", "series": "Broad money, annual growth rate", "value": 12.5},
      {"date": "2016-12-01", "series": "Broad money, annual growth rate", "value": 15.8},
      {"date": "2017-01-01", "series": "Broad money, annual growth rate", "value": 16.6},
      {"date": "2017-02-01", "series": "Broad money, annual growth rate", "value": 16.3},
      {"date": "2017-03-01", "series": "Broad money, annual growth rate", "value": 15.0},
      {"date": "2015-03-01", "series": "Central bank policy rate (p.a.)", "value": 7.5},
      {"date": "2015-04-01", "series": "Central bank policy rate (p.a.)", "value": 7.5},
      {"date": "2015-05-01", "series": "Central bank policy rate (p.a.)", "value": 7.5},
      {"date": "2015-06-01", "series": "Central bank policy rate (p.a.)", "value": 7.5},
      {"date": "2015-07-01", "series": "Central bank policy rate (p.a.)", "value": 7.5},
      {"date": "2015-08-01", "series": "Central bank policy rate (p.a.)", "value": 7.5},
      {"date": "2015-09-01", "series": "Central bank policy rate (p.a.)", "value": 7.5},
      {"date": "2015-10-01", "series": "Central bank policy rate (p.a.)", "value": 7.5},
      {"date": "2015-11-01", "series": "Central bank policy rate (p.a.)", "value": 7.5},
      {"date": "2015-12-01", "series": "Central bank policy rate (p.a.)", "value": 7.5},
      {"date": "2016-01-01", "series": "Central bank policy rate (p.a.)", "value": 7.5},
      {"date": "2016-02-01", "series": "Central bank policy rate (p.a.)", "value": 7.5},
      {"date": "2016-03-01", "series": "Central bank policy rate (p.a.)", "value": 7.5},
      {"date": "2016-04-01", "series": "Central bank policy rate (p.a.)", "value": 7.5},
      {"date": "2016-05-01", "series": "Central bank policy rate (p.a.)", "value": 7.5},
      {"date": "2016-06-01", "series": "Central bank policy rate (p.a.)", "value": 7.5},
      {"date": "2016-07-01", "series": "Central bank policy rate (p.a.)", "value": 7.5},
      {"date": "2016-08-01", "series": "Central bank policy rate (p.a.)", "value": 7.5},
      {"date": "2016-09-01", "series": "Central bank policy rate (p.a.)", "value": 7.5},
      {"date": "2016-10-01", "series": "Central bank policy rate (p.a.)", "value": 7.5},
      {"date": "2016-11-01", "series": "Central bank policy rate (p.a.)", "value": 7.5},
      {"date": "2016-12-01", "series": "Central bank policy rate (p.a.)", "value": 7.5},
      {"date": "2017-01-01", "series": "Central bank policy rate (p.a.)", "value": 7.5},
      {"date": "2017-02-01", "series": "Central bank policy rate (p.a.)", "value": 7.5},
      {"date": "2017-03-01", "series": "Central bank policy rate (p.a.)", "value": 7.5},
      {"date": "2015-03-01", "series": "Central bank policy rate (p.a.), real, deflat. with annual PPI", "value": 4.1},
      {"date": "2015-04-01", "series": "Central bank policy rate (p.a.), real, deflat. with annual PPI", "value": 2.6},
      {"date": "2015-05-01", "series": "Central bank policy rate (p.a.), real, deflat. with annual PPI", "value": 1.0},
      {"date": "2015-06-01", "series": "Central bank policy rate (p.a.), real, deflat. with annual PPI", "value": 0.3},
      {"date": "2015-07-01", "series": "Central bank policy rate (p.a.), real, deflat. with annual PPI", "value": 0.7},
      {"date": "2015-08-01", "series": "Central bank policy rate (p.a.), real, deflat. with annual PPI", "value": 0.9},
      {"date": "2015-09-01", "series": "Central bank policy rate (p.a.), real, deflat. with annual PPI", "value": 0.1},
      {"date": "2015-10-01", "series": "Central bank policy rate (p.a.), real, deflat. with annual PPI", "value": 0.7},
      {"date": "2015-11-01", "series": "Central bank policy rate (p.a.), real, deflat. with annual PPI", "value": 1.6},
      {"date": "2015-12-01", "series": "Central bank policy rate (p.a.), real, deflat. with annual PPI", "value": 1.7},
      {"date": "2016-01-01", "series": "Central bank policy rate (p.a.), real, deflat. with annual PPI", "value": 1.6},
      {"date": "2016-02-01", "series": "Central bank policy rate (p.a.), real, deflat. with annual PPI", "value": 1.9},
      {"date": "2016-03-01", "series": "Central bank policy rate (p.a.), real, deflat. with annual PPI", "value": 2.7},
      {"date": "2016-04-01", "series": "Central bank policy rate (p.a.), real, deflat. with annual PPI", "value": 3.7},
      {"date": "2016-05-01", "series": "Central bank policy rate (p.a.), real, deflat. with annual PPI", "value": 4.4},
      {"date": "2016-06-01", "series": "Central bank policy rate (p.a.), real, deflat. with annual PPI", "value": 4.2},
      {"date": "2016-07-01", "series": "Central bank policy rate (p.a.), real, deflat. with annual PPI", "value": 4.1},
      {"date": "2016-08-01", "series": "Central bank policy rate (p.a.), real, deflat. with annual PPI", "value": 4.3},
      {"date": "2016-09-01", "series": "Central bank policy rate (p.a.), real, deflat. with annual PPI", "value": 5.7},
      {"date": "2016-10-01", "series": "Central bank policy rate (p.a.), real, deflat. with annual PPI", "value": 5.4},
      {"date": "2016-11-01", "series": "Central bank policy rate (p.a.), real, deflat. with annual PPI", "value": 3.0},
      {"date": "2016-12-01", "series": "Central bank policy rate (p.a.), real, deflat. with annual PPI", "value": -1.0},
      {"date": "2017-01-01", "series": "Central bank policy rate (p.a.), real, deflat. with annual PPI", "value": -4.8},
      {"date": "2017-02-01", "series": "Central bank policy rate (p.a.), real, deflat. with annual PPI", "value": -6.6},
      {"date": "2017-03-01", "series": "Central bank policy rate (p.a.), real, deflat. with annual PPI", "value": -7.3}
    ],
    "ext_sector": [
      {"date": "2015-03-01", "series": "Exports total, 3-month moving average (EUR based)", "value": 15.9},
      {"date": "2015-04-01", "series": "Exports total, 3-month moving average (EUR based)", "value": 12.8},
      {"date": "2015-05-01", "series": "Exports total, 3-month moving average (EUR based)", "value": 12.8},
      {"date": "2015-06-01", "series": "Exports total, 3-month moving average (EUR based)", "value": 4.7},
      {"date": "2015-07-01", "series": "Exports total, 3-month moving average (EUR based)", "value": 10.1},
      {"date": "2015-08-01", "series": "Exports total, 3-month moving average (EUR based)", "value": 4.7},
      {"date": "2015-09-01", "series": "Exports total, 3-month moving average (EUR based)", "value": 9.2},
      {"date": "2015-10-01", "series": "Exports total, 3-month moving average (EUR based)", "value": 6.2},
      {"date": "2015-11-01", "series": "Exports total, 3-month moving average (EUR based)", "value": 6.0},
      {"date": "2015-12-01", "series": "Exports total, 3-month moving average (EUR based)", "value": -4.2},
      {"date": "2016-01-01", "series": "Exports total, 3-month moving average (EUR based)", "value": -4.2},
      {"date": "2016-02-01", "series": "Exports total, 3-month moving average (EUR based)", "value": -4.2},
      {"date": "2016-03-01", "series": "Exports total, 3-month moving average (EUR based)", "value": -4.2},
      {"date": "2016-04-01", "series": "Exports total, 3-month moving average (EUR based)", "value": -3.9},
      {"date": "2016-05-01", "series": "Exports total, 3-month moving average (EUR based)", "value": -2.0},
      {"date": "2016-06-01", "series": "Exports total, 3-month moving average (EUR based)", "value": 1.1},
      {"date": "2016-07-01", "series": "Exports total, 3-month moving average (EUR based)", "value": 1.1},
      {"date": "2016-08-01", "series": "Exports total, 3-month moving average (EUR based)", "value": -3.9},
      {"date": "2016-09-01", "series": "Exports total, 3-month moving average (EUR based)", "value": 1.1},
      {"date": "2016-10-01", "series": "Exports total, 3-month moving average (EUR based)", "value": 2.0},
      {"date": "2016-11-01", "series": "Exports total, 3-month moving average (EUR based)", "value": 6.5},
      {"date": "2016-12-01", "series": "Exports total, 3-month moving average (EUR based)", "value": 12.8},
      {"date": "2017-01-01", "series": "Exports total, 3-month moving average (EUR based)", "value": 11.0},
      {"date": "2015-03-01", "series": "Imports total, 3-month moving average (EUR based)", "value": 15.5},
      {"date": "2015-04-01", "series": "Imports total, 3-month moving average (EUR based)", "value": 12.5},
      {"date": "2015-05-01", "series": "Imports total, 3-month moving average (EUR based)", "value": 8.5},
      {"date": "2015-06-01", "series": "Imports total, 3-month moving average (EUR based)", "value": 8.0},
      {"date": "2015-07-01", "series": "Imports total, 3-month moving average (EUR based)", "value": 6.5},
      {"date": "2015-08-01", "series": "Imports total, 3-month moving average (EUR based)", "value": -0.5},
      {"date": "2015-09-01", "series": "Imports total, 3-month moving average (EUR based)", "value": -5.0},
      {"date": "2015-10-01", "series": "Imports total, 3-month moving average (EUR based)", "value": -9.2},
      {"date": "2015-11-01", "series": "Imports total, 3-month moving average (EUR based)", "value": -6.9},
      {"date": "2015-12-01", "series": "Imports total, 3-month moving average (EUR based)", "value": -10.5},
      {"date": "2016-01-01", "series": "Imports total, 3-month moving average (EUR based)", "value": -7.8},
      {"date": "2016-02-01", "series": "Imports total, 3-month moving average (EUR based)", "value": -7.8},
      {"date": "2016-03-01", "series": "Imports total, 3-month moving average (EUR based)", "value": -9.2},
      {"date": "2016-04-01", "series": "Imports total, 3-month moving average (EUR based)", "value": -9.2},
      {"date": "2016-05-01", "series": "Imports total, 3-month moving average (EUR based)", "value": -5.1},
      {"date": "2016-06-01", "series": "Imports total, 3-month moving average (EUR based)", "value": -5.7},
      {"date": "2016-07-01", "series": "Imports total, 3-month moving average (EUR based)", "value": -4.2},
      {"date": "2016-08-01", "series": "Imports total, 3-month moving average (EUR based)", "value": -6.3},
      {"date": "2016-09-01", "series": "Imports total, 3-month moving average (EUR based)", "value": 1.1},
      {"date": "2016-10-01", "series": "Imports total, 3-month moving average (EUR based)", "value": 2.0},
      {"date": "2016-11-01", "series": "Imports total, 3-month moving average (EUR based)", "value": 4.7},
      {"date": "2016-12-01", "series": "Imports total, 3-month moving average (EUR based)", "value": 9.2},
      {"date": "2017-01-01", "series": "Imports total, 3-month moving average (EUR based)", "value": 9.2},
      {"date": "2015-03-01", "series": "Real exchange rate EUR/TRY, PPI deflated", "value": 15.2},
      {"date": "2015-04-01", "series": "Real exchange rate EUR/TRY, PPI deflated", "value": 11.0},
      {"date": "2015-05-01", "series": "Real exchange rate EUR/TRY, PPI deflated", "value": 6.5},
      {"date": "2015-06-01", "series": "Real exchange rate EUR/TRY, PPI deflated", "value": 4.7},
      {"date": "2015-07-01", "series": "Real exchange rate EUR/TRY, PPI deflated", "value": 2.9},
      {"date": "2015-08-01", "series": "Real exchange rate EUR/TRY, PPI deflated", "value": -3.3},
      {"date": "2015-09-01", "series": "Real exchange rate EUR/TRY, PPI deflated", "value": -6.0},
      {"date": "2015-10-01", "series": "Real exchange rate EUR/TRY, PPI deflated", "value": -5.1},
      {"date": "2015-11-01", "series": "Real exchange rate EUR/TRY, PPI deflated", "value": -2.5},
      {"date": "2015-12-01", "series": "Real exchange rate EUR/TRY, PPI deflated", "value": -8.8},
      {"date": "2016-01-01", "series": "Real exchange rate EUR/TRY, PPI deflated", "value": -6.0},
      {"date": "2016-02-01", "series": "Real exchange rate EUR/TRY, PPI deflated", "value": -5.1},
      {"date": "2016-03-01", "series": "Real exchange rate EUR/TRY, PPI deflated", "value": -5.7},
      {"date": "2016-04-01", "series": "Real exchange rate EUR/TRY, PPI deflated", "value": -2.5},
      {"date": "2016-05-01", "series": "Real exchange rate EUR/TRY, PPI deflated", "value": -2.1},
      {"date": "2016-06-01", "series": "Real exchange rate EUR/TRY, PPI deflated", "value": -2.9},
      {"date": "2016-07-01", "series": "Real exchange rate EUR/TRY, PPI deflated", "value": -1.6},
      {"date": "2016-08-01", "series": "Real exchange rate EUR/TRY, PPI deflated", "value": 1.1},
      {"date": "2016-09-01", "series": "Real exchange rate EUR/TRY, PPI deflated", "value": 3.8},
      {"date": "2016-10-01", "series": "Real exchange rate EUR/TRY, PPI deflated", "value": -7.8},
      {"date": "2016-11-01", "series": "Real exchange rate EUR/TRY, PPI deflated", "value": -6.9},
      {"date": "2016-12-01", "series": "Real exchange rate EUR/TRY, PPI deflated", "value": -9.7},
      {"date": "2017-01-01", "series": "Real exchange rate EUR/TRY, PPI deflated", "value": -7.0},
      {"date": "2017-02-01", "series": "Real exchange rate EUR/TRY, PPI deflated", "value": -7.8},
      {"date": "2017-03-01", "series": "Real exchange rate EUR/TRY, PPI deflated", "value": -8.8}
    ],
    "reserves": [
      {"date": "2015-03-01", "series": "Gross reserves of NB excl. gold", "value": 100},
      {"date": "2015-06-01", "series": "Gross reserves of NB excl. gold", "value": 84},
      {"date": "2015-09-01", "series": "Gross reserves of NB excl. gold", "value": 93},
      {"date": "2015-12-01", "series": "Gross reserves of NB excl. gold", "value": 84},
      {"date": "2016-03-01", "series": "Gross reserves of NB excl. gold", "value": 84},
      {"date": "2016-06-01", "series": "Gross reserves of NB excl. gold", "value": 84},
      {"date": "2016-09-01", "series": "Gross reserves of NB excl. gold", "value": 88},
      {"date": "2016-12-01", "series": "Gross reserves of NB excl. gold", "value": 88}
    ],
    "external_debt": [
      {"date": "2015-03-01", "series": "Gross external debt", "value": 365},
      {"date": "2015-06-01", "series": "Gross external debt", "value": 358},
      {"date": "2015-09-01", "series": "Gross external debt", "value": 362},
      {"date": "2015-12-01", "series": "Gross external debt", "value": 358},
      {"date": "2016-03-01", "series": "Gross external debt", "value": 353},
      {"date": "2016-06-01", "series": "Gross external debt", "value": 376},
      {"date": "2016-09-01", "series": "Gross external debt", "value": 369},
      {"date": "2016-12-01", "series": "Gross external debt", "value": 381}
    ],
    "current_account": [
      {"date": "2015-03-01", "series": "Current account", "value": -9.4},
      {"date": "2015-06-01", "series": "Current account", "value": -10.3},
      {"date": "2015-09-01", "series": "Current account", "value": -2.5},
      {"date": "2015-12-01", "series": "Current account", "value": -6.9},
      {"date": "2016-03-01", "series": "Current account", "value": -7.2},
      {"date": "2016-06-01", "series": "Current account", "value": -9.8},
      {"date": "2016-09-01", "series": "Current account", "value": -4.9},
      {"date": "2016-12-01", "series": "Current account", "value": -7.6}
    ]
  },
  "config": {
    "font": "Liberation Sans",
    "view": {"stroke": null},
    "axis": {"labelFont": "Liberation Sans", "labelFontSize": 4.5, "labelColor": "#404040", "domainColor": "#BFBFBF", "domainWidth": 0.8, "tickColor": "#BFBFBF", "tickWidth": 0.8, "tickSize": 2, "grid": false, "labelPadding": 1, "titleFont": "Liberation Sans", "titleFontSize": 4.5, "titleFontWeight": "normal", "titleColor": "#404040"},
    "legend": {"labelFont": "Liberation Sans", "labelFontSize": 4.5, "labelColor": "#262626", "titleFont": "Liberation Sans", "titleFontSize": 4.5, "titleFontWeight": "bold", "titleColor": "#262626", "titlePadding": 1, "rowPadding": 0, "padding": 0, "labelLimit": 400, "symbolOffset": 0},
    "title": {"font": "Liberation Sans", "fontSize": 6.5, "fontWeight": "bold", "color": "#262626", "subtitleFont": "Liberation Sans", "subtitleFontSize": 4.7, "subtitleColor": "#404040", "subtitlePadding": 1, "anchor": "middle", "frame": "group"}
  }
}
